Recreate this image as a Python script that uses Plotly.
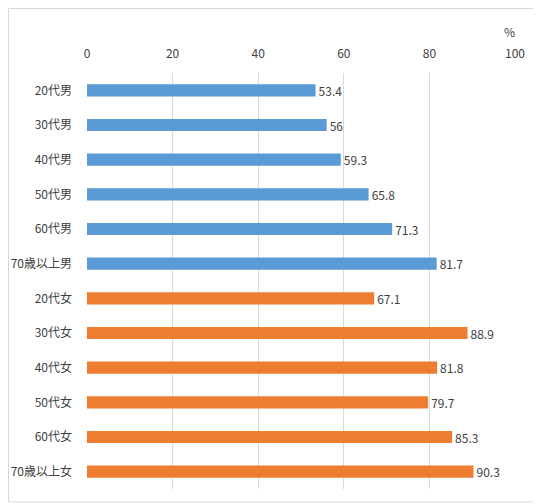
import plotly.graph_objects as go

# categories from top to bottom
categories = ["20代男", "30代男", "40代男", "50代男", "60代男", "70歳以上男",
              "20代女", "30代女", "40代女", "50代女", "60代女", "70歳以上女"]
values = [53.4, 56, 59.3, 65.8, 71.3, 81.7,
          67.1, 88.9, 81.8, 79.7, 85.3, 90.3]
value_labels = ["53.4", "56", "59.3", "65.8", "71.3", "81.7",
                "67.1", "88.9", "81.8", "79.7", "85.3", "90.3"]
tick_vals = [0, 20, 40, 60, 80, 100]

BLUE = "#5B9BD5"
ORANGE = "#ED7D31"
colors = [BLUE] * 6 + [ORANGE] * 6

font_family = "Noto Sans CJK JP, Noto Sans, sans-serif"

# the page body adds an 8px margin, so the figure is sized to fit inside it
fig = go.Figure()
fig.add_trace(go.Bar(
    x=values, y=categories, orientation="h",
    marker=dict(color=colors, line=dict(width=0)),
    width=0.35,
    text=value_labels, textposition="outside", cliponaxis=False,
    constraintext="none",
    textfont=dict(size=12, color="#404040", family=font_family),
    showlegend=False,
))

fig.update_layout(
    width=533, height=496,
    margin=dict(l=79, r=26, t=65, b=15, autoexpand=False),
    paper_bgcolor="white", plot_bgcolor="white",
    font=dict(family=font_family, size=12, color="#404040"),
    uniformtext=dict(minsize=12),
    xaxis=dict(
        side="top", range=[0, 100], tickvals=tick_vals,
        showgrid=True, gridcolor="#D9D9D9", gridwidth=1,
        zeroline=False, showline=False, ticks="",
        ticklabelstandoff=12, automargin=False,
        tickfont=dict(size=12, color="#404040"),
    ),
    yaxis=dict(
        categoryorder="array", categoryarray=categories[::-1],
        showgrid=False, zeroline=False, showline=False, ticks="",
        ticklabelstandoff=14, automargin=False,
        tickfont=dict(size=12, color="#404040"),
    ),
    annotations=[dict(
        text="%", x=98.8, y=1.1, xref="x", yref="paper",
        showarrow=False, xanchor="center", yanchor="middle",
        font=dict(size=12, color="#404040"),
    )],
    shapes=[dict(
        type="rect", xref="paper", yref="paper",
        x0=-0.1834, x1=1.056, y0=-0.031, y1=1.155,
        line=dict(color="#D9D9D9", width=1),
    )],
)

fig.write_html("out.html")
